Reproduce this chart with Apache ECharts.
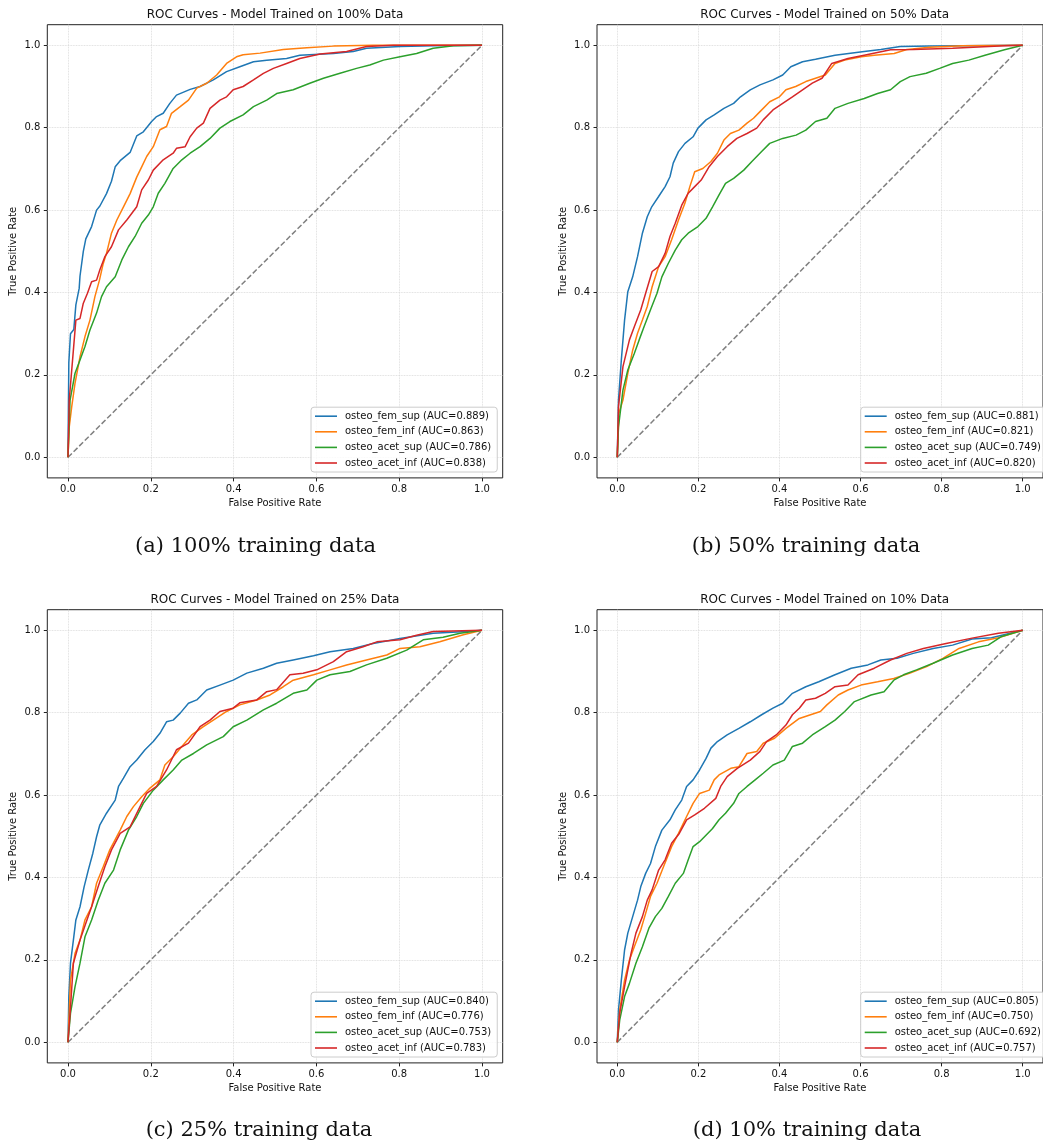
<!DOCTYPE html>
<html><head><meta charset="utf-8">
<script src="https://cdn.jsdelivr.net/npm/echarts@6/dist/echarts.min.js"></script>
<style>html,body{margin:0;padding:0;background:#fff}#c{width:1043px;height:1146px}</style>
</head><body><div id="c"></div>
<script>
// ---------- DATA ----------
const panelTitles = ['ROC Curves - Model Trained on 100% Data','ROC Curves - Model Trained on 50% Data','ROC Curves - Model Trained on 25% Data','ROC Curves - Model Trained on 10% Data'];
const captions = ['(a) 100% training data','(b) 50% training data','(c) 25% training data','(d) 10% training data'];
const seriesLabels = ['osteo_fem_sup','osteo_fem_inf','osteo_acet_sup','osteo_acet_inf'];
const aucA = ['0.889','0.863','0.786','0.838'];
const aucB = ['0.881','0.821','0.749','0.820'];
const aucC = ['0.840','0.776','0.753','0.783'];
const aucD = ['0.805','0.750','0.692','0.757'];
const tickValues = [0,0.2,0.4,0.6,0.8,1.0];
const chanceLine = [[0,0],[1,1]];

// panel (a) 100%
const a_fem_sup = [[0,0],[0.001,0.12],[0.002,0.23],[0.006,0.30],[0.014,0.31],[0.019,0.37],[0.027,0.41],[0.029,0.44],[0.037,0.50],[0.043,0.53],[0.057,0.56],[0.069,0.60],[0.077,0.61],[0.093,0.64],[0.105,0.67],[0.114,0.705],[0.126,0.72],[0.150,0.74],[0.166,0.78],[0.182,0.79],[0.202,0.815],[0.214,0.827],[0.230,0.835],[0.246,0.859],[0.262,0.879],[0.295,0.893],[0.319,0.90],[0.351,0.916],[0.383,0.936],[0.415,0.948],[0.448,0.96],[0.480,0.964],[0.528,0.968],[0.560,0.976],[0.641,0.98],[0.689,0.985],[0.721,0.993],[0.802,0.997],[0.882,0.999],[1,1]];
const a_fem_inf = [[0,0],[0.003,0.074],[0.009,0.123],[0.017,0.18],[0.029,0.244],[0.041,0.293],[0.053,0.333],[0.065,0.39],[0.076,0.43],[0.085,0.47],[0.093,0.495],[0.105,0.544],[0.118,0.576],[0.134,0.608],[0.15,0.64],[0.166,0.68],[0.178,0.705],[0.19,0.73],[0.206,0.754],[0.222,0.795],[0.238,0.803],[0.25,0.835],[0.271,0.851],[0.291,0.867],[0.311,0.896],[0.335,0.908],[0.359,0.928],[0.383,0.956],[0.407,0.972],[0.423,0.977],[0.464,0.981],[0.52,0.99],[0.577,0.994],[0.641,0.998],[0.737,1],[1,1]];
const a_acet_sup = [[0,0],[0.005,0.139],[0.017,0.204],[0.029,0.236],[0.041,0.269],[0.053,0.309],[0.069,0.35],[0.081,0.39],[0.093,0.414],[0.114,0.438],[0.13,0.479],[0.146,0.511],[0.162,0.536],[0.178,0.568],[0.194,0.588],[0.206,0.608],[0.218,0.641],[0.234,0.665],[0.254,0.701],[0.275,0.722],[0.295,0.738],[0.319,0.754],[0.343,0.774],[0.367,0.799],[0.391,0.815],[0.423,0.831],[0.448,0.851],[0.48,0.867],[0.504,0.883],[0.544,0.892],[0.584,0.908],[0.617,0.92],[0.657,0.932],[0.697,0.944],[0.729,0.952],[0.762,0.964],[0.802,0.972],[0.842,0.98],[0.882,0.993],[0.931,0.999],[1,1]];
const a_acet_inf = [[0,0],[0.003,0.139],[0.013,0.26],[0.019,0.333],[0.029,0.337],[0.037,0.374],[0.047,0.398],[0.057,0.426],[0.069,0.43],[0.077,0.455],[0.089,0.487],[0.105,0.511],[0.122,0.552],[0.142,0.576],[0.166,0.608],[0.178,0.649],[0.194,0.673],[0.206,0.697],[0.23,0.722],[0.254,0.738],[0.262,0.75],[0.283,0.754],[0.295,0.778],[0.311,0.799],[0.327,0.811],[0.343,0.847],[0.367,0.867],[0.383,0.875],[0.399,0.892],[0.423,0.9],[0.448,0.916],[0.472,0.932],[0.496,0.944],[0.528,0.956],[0.56,0.968],[0.609,0.979],[0.673,0.985],[0.721,0.997],[0.786,1],[1,1]];

// panel (b) 50%
const b_fem_sup = [[0,0],[0.003,0.139],[0.010,0.236],[0.018,0.333],[0.026,0.402],[0.038,0.438],[0.050,0.487],[0.062,0.544],[0.074,0.584],[0.085,0.608],[0.102,0.633],[0.118,0.657],[0.130,0.681],[0.138,0.714],[0.151,0.742],[0.167,0.762],[0.187,0.778],[0.199,0.799],[0.219,0.819],[0.239,0.831],[0.263,0.847],[0.287,0.859],[0.304,0.875],[0.328,0.892],[0.352,0.904],[0.384,0.916],[0.408,0.928],[0.428,0.948],[0.457,0.960],[0.489,0.966],[0.537,0.976],[0.609,0.985],[0.650,0.99],[0.698,0.997],[0.771,0.998],[1,1]];
const b_fem_inf = [[0,0],[0.004,0.107],[0.014,0.139],[0.026,0.204],[0.038,0.26],[0.050,0.301],[0.062,0.333],[0.074,0.366],[0.086,0.414],[0.102,0.463],[0.118,0.487],[0.134,0.528],[0.151,0.576],[0.167,0.617],[0.179,0.657],[0.191,0.693],[0.211,0.701],[0.231,0.718],[0.247,0.738],[0.263,0.770],[0.279,0.786],[0.300,0.794],[0.320,0.811],[0.336,0.823],[0.352,0.839],[0.376,0.863],[0.400,0.875],[0.416,0.892],[0.440,0.90],[0.465,0.912],[0.489,0.920],[0.513,0.928],[0.537,0.956],[0.561,0.964],[0.602,0.972],[0.634,0.976],[0.683,0.98],[0.714,0.990],[0.771,0.995],[0.851,0.999],[1,1]];
const b_acet_sup = [[0,0],[0.003,0.074],[0.014,0.163],[0.026,0.212],[0.042,0.252],[0.054,0.285],[0.066,0.317],[0.082,0.358],[0.098,0.398],[0.110,0.438],[0.126,0.471],[0.143,0.503],[0.159,0.528],[0.175,0.544],[0.199,0.56],[0.219,0.580],[0.235,0.608],[0.251,0.637],[0.267,0.665],[0.287,0.677],[0.312,0.697],[0.332,0.718],[0.356,0.742],[0.376,0.762],[0.408,0.774],[0.441,0.782],[0.465,0.794],[0.489,0.815],[0.517,0.823],[0.537,0.847],[0.569,0.859],[0.609,0.871],[0.642,0.883],[0.674,0.892],[0.698,0.912],[0.722,0.924],[0.762,0.932],[0.795,0.944],[0.827,0.956],[0.867,0.964],[0.907,0.976],[0.955,0.989],[1,1]];
const b_acet_inf = [[0,0],[0.003,0.123],[0.014,0.22],[0.030,0.285],[0.042,0.317],[0.058,0.358],[0.070,0.398],[0.086,0.451],[0.102,0.463],[0.118,0.495],[0.130,0.536],[0.143,0.568],[0.159,0.612],[0.175,0.641],[0.191,0.657],[0.207,0.673],[0.227,0.706],[0.247,0.730],[0.271,0.754],[0.295,0.774],[0.320,0.786],[0.344,0.799],[0.360,0.819],[0.384,0.843],[0.408,0.859],[0.432,0.875],[0.457,0.892],[0.481,0.908],[0.505,0.920],[0.529,0.956],[0.569,0.968],[0.609,0.976],[0.674,0.989],[0.730,0.990],[0.827,0.993],[0.955,0.999],[1,1]];

// panel (c) 25%
const c_fem_sup = [[0,0],[0.002,0.111],[0.006,0.192],[0.013,0.248],[0.019,0.297],[0.029,0.329],[0.039,0.378],[0.049,0.418],[0.060,0.459],[0.069,0.499],[0.077,0.528],[0.093,0.556],[0.114,0.588],[0.122,0.621],[0.134,0.641],[0.150,0.669],[0.166,0.685],[0.186,0.710],[0.206,0.730],[0.222,0.75],[0.238,0.778],[0.254,0.782],[0.271,0.799],[0.291,0.823],[0.311,0.831],[0.335,0.855],[0.367,0.867],[0.399,0.879],[0.432,0.896],[0.472,0.908],[0.504,0.920],[0.544,0.928],[0.593,0.938],[0.633,0.948],[0.689,0.956],[0.737,0.968],[0.802,0.980],[0.882,0.993],[0.963,0.997],[1,1]];
const c_fem_inf = [[0,0],[0.006,0.151],[0.017,0.216],[0.029,0.248],[0.041,0.297],[0.057,0.329],[0.069,0.386],[0.085,0.426],[0.101,0.467],[0.126,0.515],[0.142,0.548],[0.158,0.572],[0.178,0.596],[0.198,0.617],[0.222,0.637],[0.234,0.673],[0.254,0.693],[0.275,0.718],[0.299,0.746],[0.327,0.766],[0.351,0.782],[0.383,0.803],[0.415,0.819],[0.456,0.831],[0.488,0.843],[0.520,0.863],[0.544,0.879],[0.593,0.892],[0.633,0.904],[0.673,0.916],[0.721,0.928],[0.770,0.940],[0.802,0.956],[0.850,0.960],[0.898,0.972],[0.955,0.989],[1,1]];
const c_acet_sup = [[0,0],[0.006,0.070],[0.017,0.135],[0.029,0.192],[0.041,0.256],[0.057,0.297],[0.073,0.345],[0.089,0.386],[0.110,0.418],[0.126,0.467],[0.146,0.515],[0.166,0.548],[0.182,0.580],[0.206,0.612],[0.230,0.637],[0.254,0.661],[0.275,0.685],[0.303,0.701],[0.335,0.722],[0.375,0.742],[0.399,0.766],[0.432,0.782],[0.472,0.807],[0.504,0.823],[0.544,0.847],[0.577,0.855],[0.601,0.879],[0.633,0.892],[0.681,0.900],[0.721,0.916],[0.770,0.932],[0.818,0.952],[0.858,0.977],[0.906,0.983],[0.947,0.993],[1,1]];
const c_acet_inf = [[0,0],[0.005,0.070],[0.013,0.192],[0.029,0.248],[0.043,0.289],[0.057,0.329],[0.073,0.378],[0.089,0.426],[0.105,0.467],[0.126,0.507],[0.150,0.523],[0.174,0.572],[0.190,0.604],[0.214,0.621],[0.238,0.661],[0.262,0.710],[0.291,0.726],[0.319,0.766],[0.343,0.782],[0.367,0.803],[0.399,0.811],[0.415,0.824],[0.456,0.831],[0.480,0.851],[0.504,0.856],[0.536,0.892],[0.568,0.896],[0.601,0.904],[0.641,0.924],[0.673,0.948],[0.713,0.960],[0.746,0.972],[0.802,0.977],[0.842,0.988],[0.882,0.997],[1,1]];

// panel (d) 10%
const d_fem_sup = [[0,0],[0.003,0.078],[0.010,0.151],[0.018,0.224],[0.026,0.265],[0.038,0.305],[0.050,0.345],[0.058,0.378],[0.070,0.410],[0.082,0.434],[0.094,0.475],[0.110,0.515],[0.130,0.540],[0.143,0.564],[0.159,0.588],[0.171,0.621],[0.187,0.637],[0.203,0.661],[0.219,0.689],[0.231,0.714],[0.247,0.730],[0.271,0.746],[0.300,0.762],[0.328,0.778],[0.356,0.795],[0.384,0.811],[0.408,0.823],[0.432,0.847],[0.465,0.863],[0.497,0.875],[0.537,0.892],[0.577,0.908],[0.618,0.916],[0.650,0.928],[0.690,0.932],[0.730,0.944],[0.779,0.956],[0.827,0.964],[0.875,0.979],[0.923,0.982],[1,1]];
const d_fem_inf = [[0,0],[0.006,0.078],[0.018,0.151],[0.030,0.200],[0.042,0.232],[0.058,0.273],[0.070,0.313],[0.082,0.354],[0.098,0.386],[0.114,0.426],[0.134,0.475],[0.151,0.507],[0.171,0.548],[0.187,0.580],[0.203,0.604],[0.227,0.612],[0.239,0.637],[0.251,0.649],[0.280,0.665],[0.300,0.669],[0.320,0.701],[0.344,0.706],[0.360,0.726],[0.388,0.738],[0.416,0.762],[0.449,0.786],[0.473,0.794],[0.501,0.803],[0.517,0.819],[0.545,0.843],[0.569,0.855],[0.601,0.867],[0.642,0.875],[0.682,0.883],[0.722,0.896],[0.763,0.912],[0.803,0.932],[0.843,0.956],[0.891,0.972],[0.940,0.982],[1,1]];
const d_acet_sup = [[0,0],[0.006,0.054],[0.018,0.111],[0.030,0.143],[0.046,0.192],[0.062,0.232],[0.078,0.277],[0.094,0.305],[0.110,0.325],[0.126,0.354],[0.143,0.386],[0.163,0.410],[0.175,0.443],[0.187,0.475],[0.203,0.487],[0.223,0.507],[0.235,0.519],[0.251,0.540],[0.267,0.556],[0.287,0.580],[0.300,0.604],[0.320,0.621],[0.340,0.637],[0.360,0.653],[0.384,0.673],[0.412,0.685],[0.432,0.718],[0.457,0.726],[0.481,0.746],[0.513,0.766],[0.537,0.782],[0.561,0.803],[0.585,0.827],[0.626,0.843],[0.658,0.851],[0.682,0.879],[0.706,0.892],[0.738,0.904],[0.779,0.920],[0.827,0.940],[0.875,0.956],[0.915,0.964],[0.948,0.985],[1,1]];
const d_acet_inf = [[0,0],[0.006,0.070],[0.018,0.135],[0.034,0.216],[0.046,0.265],[0.062,0.305],[0.074,0.345],[0.086,0.370],[0.102,0.418],[0.118,0.443],[0.134,0.483],[0.153,0.507],[0.171,0.540],[0.191,0.552],[0.215,0.568],[0.243,0.592],[0.255,0.621],[0.271,0.645],[0.296,0.665],[0.328,0.685],[0.352,0.706],[0.368,0.730],[0.392,0.746],[0.416,0.770],[0.432,0.795],[0.449,0.811],[0.465,0.831],[0.489,0.835],[0.513,0.847],[0.537,0.863],[0.569,0.867],[0.594,0.892],[0.634,0.908],[0.674,0.928],[0.714,0.944],[0.755,0.956],[0.811,0.968],[0.875,0.981],[0.940,0.993],[1,1]];

// ---------- BUILD ----------
const colors = ['#1f77b4','#ff7f0e','#2ca02c','#d62728'];
const FONT = 'DejaVu Sans';
const panels = [
  {left:47.3, top:24.7, data:[a_fem_sup,a_fem_inf,a_acet_sup,a_acet_inf], auc:aucA},
  {left:597.0, top:24.7, data:[b_fem_sup,b_fem_inf,b_acet_sup,b_acet_inf], auc:aucB},
  {left:47.3, top:609.7, data:[c_fem_sup,c_fem_inf,c_acet_sup,c_acet_inf], auc:aucC},
  {left:597.0, top:609.7, data:[d_fem_sup,d_fem_inf,d_acet_sup,d_acet_inf], auc:aucD}
];
const W = 455.4, H = 453.2;
const capPos = [[255.5,547],[806,547],[259,1131],[807,1131]];

const grid = [], xAxis = [], yAxis = [], series = [], legend = [], graphic = [];
const fmt = v => Number(v).toFixed(1);
panels.forEach((p, i) => {
  grid.push({left:p.left, top:p.top, width:W, height:H, show:true, borderColor:'#222', borderWidth:1, backgroundColor:'transparent', containLabel:false});
  const axisCommon = {
    min:-0.05, max:1.05, gridIndex:i,
    axisLine:{show:false, onZero:false},
    axisTick:{show:true, inside:false, length:3.5, lineStyle:{color:'#222', width:1}, customValues:tickValues},
    axisLabel:{customValues:tickValues, formatter:fmt, color:'#111', fontFamily:FONT, fontSize:10, margin:7},
    splitLine:{show:true, lineStyle:{color:'#d4d4d4', type:'dotted', width:0.8}},
    nameLocation:'middle', nameTextStyle:{color:'#111', fontFamily:FONT, fontSize:10}
  };
  xAxis.push(Object.assign({}, axisCommon, {type:'value', position:'bottom', name:'False Positive Rate', nameGap:21}));
  yAxis.push(Object.assign({}, axisCommon, {type:'value', position:'left', name:'True Positive Rate', nameGap:29}));
  series.push({type:'line', name:'chance'+i, xAxisIndex:i, yAxisIndex:i, data:chanceLine, symbol:'none', silent:true,
    lineStyle:{color:'#808080', width:1.5, type:[5.5,2.4]}, z:1});
  const names = [];
  p.data.forEach((d, k) => {
    const nm = seriesLabels[k] + ' (AUC=' + p.auc[k] + ')';
    names.push(nm);
    series.push({type:'line', name:nm, xAxisIndex:i, yAxisIndex:i, data:d, symbol:'none', showSymbol:false,
      lineStyle:{color:colors[k], width:1.5}, itemStyle:{color:colors[k]}, z:2+k});
  });
  legend.push({data:names, orient:'vertical', left:p.left + 263.7, top:p.top + 382.5,
    icon:'rect', itemWidth:22, itemHeight:1.6, itemGap:5.6, padding:[4,6,4,4],
    backgroundColor:'rgba(255,255,255,0.8)', borderColor:'#cccccc', borderWidth:1, borderRadius:3,
    textStyle:{fontFamily:FONT, fontSize:10, color:'#111', lineHeight:10, padding:[0,0,0,3]},
    selectedMode:false});
  graphic.push({type:'text', x:p.left + W/2, y:p.top - 10, style:{text:panelTitles[i], font:'12px "DejaVu Sans"', fill:'#111', textAlign:'center', textVerticalAlign:'middle'}});
  graphic.push({type:'text', x:capPos[i][0], y:capPos[i][1], style:{text:captions[i], font:'21px "DejaVu Serif"', fill:'#111', textAlign:'center', textVerticalAlign:'middle'}});
});

const chart = echarts.init(document.getElementById('c'), null, {renderer:'canvas'});
chart.setOption({animation:false, backgroundColor:'#fff', grid, xAxis, yAxis, series, legend, graphic});
</script></body></html>
